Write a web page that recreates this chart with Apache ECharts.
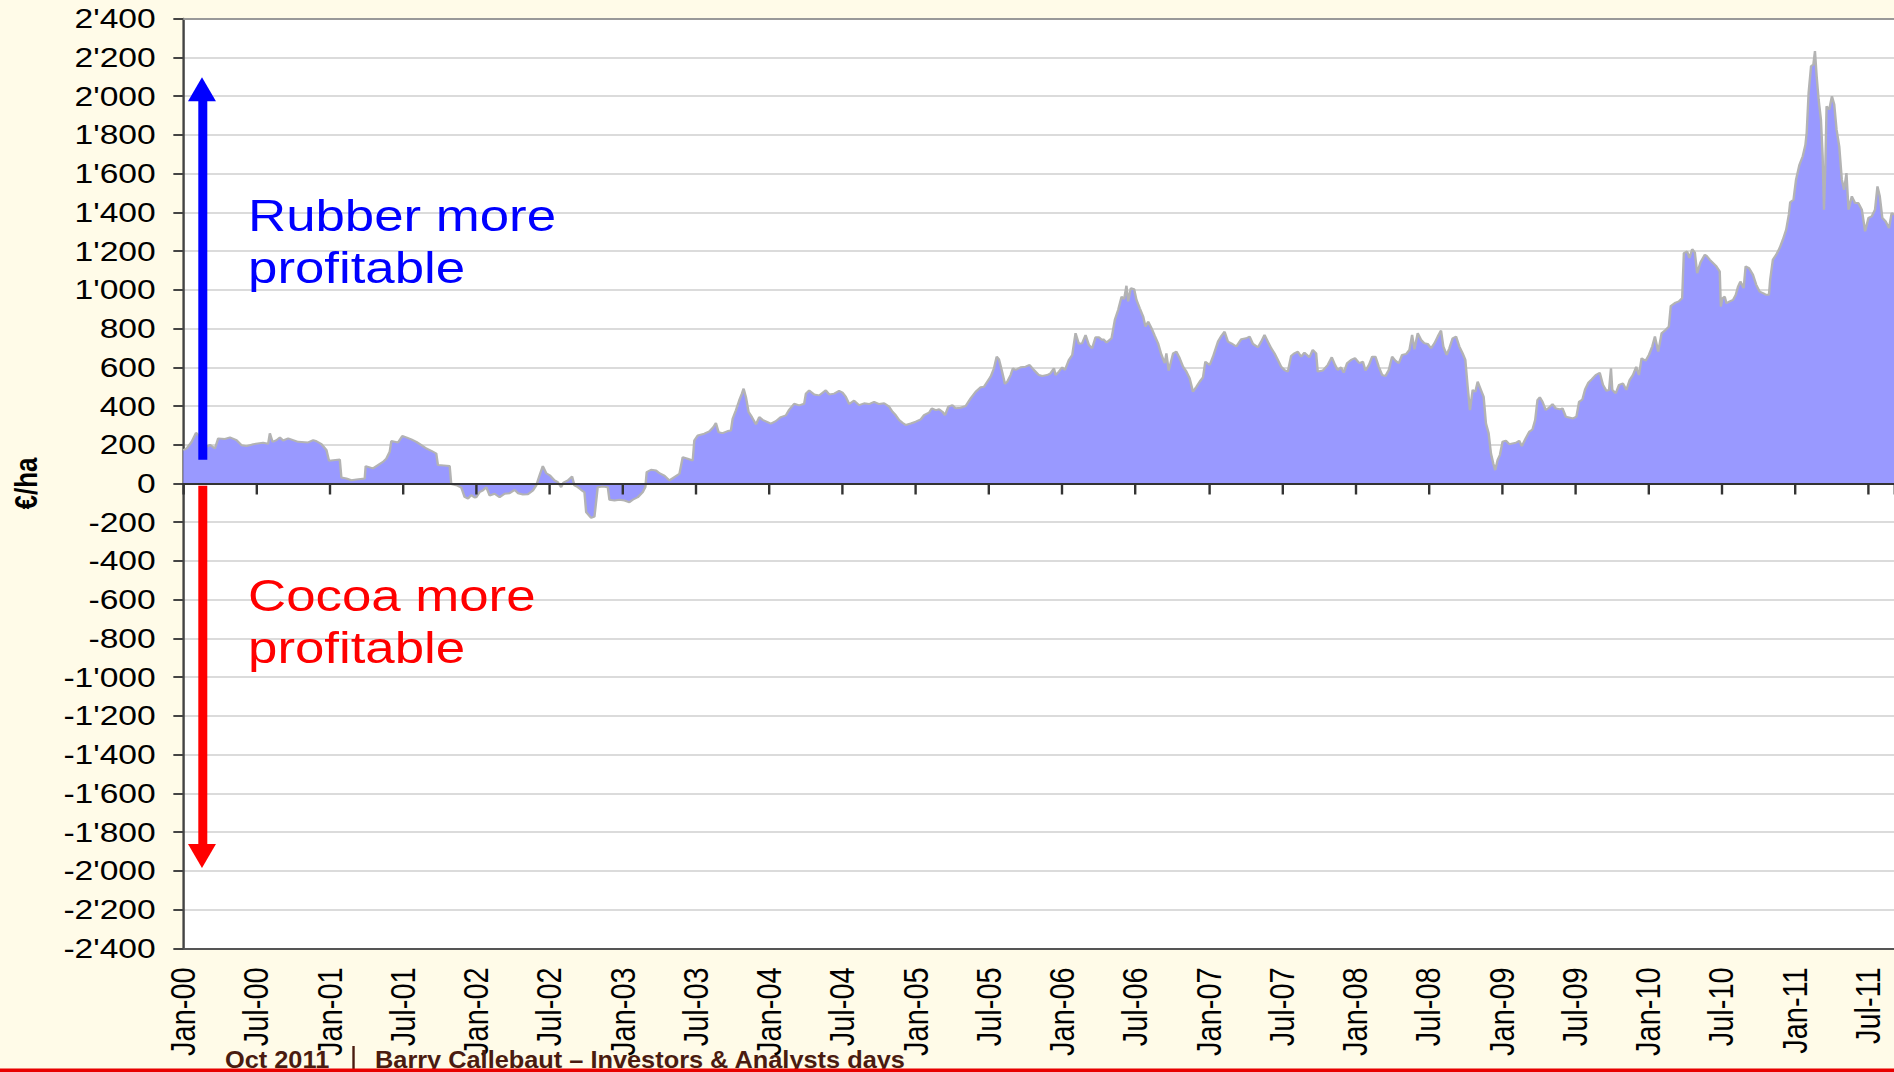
<!DOCTYPE html>
<html>
<head>
<meta charset="utf-8">
<title>Rubber vs cocoa profitability</title>
<script src="https://cdn.jsdelivr.net/npm/echarts@6/dist/echarts.min.js"></script>
<style>
    html, body { margin: 0; padding: 0; background: #fffbe8; overflow: hidden; }
    /* the slide this comes from was stretched sideways, so draw narrow and widen it */
    #chart { width: 1579px; height: 1072px; transform: scaleX(1.2); transform-origin: 0 0; }
</style>
</head>
<body>
<div id="chart"></div>
<script>
// x = months since Jan 2000, y = rubber minus cocoa margin in €/ha
var monthPos = [
    0, 0.27, 0.68, 1.04, 1.23, 1.96, 2.18, 2.59, 2.86, 3.41, 3.82, 4.36, 4.77, 5.18, 5.73,
    6.54, 6.95, 7.09, 7.31, 7.64, 7.91, 8.18, 8.59, 9.0, 9.41, 10.23, 10.64, 10.91, 11.32, 11.73, 11.94,
    12.82, 12.95, 13.36, 13.77, 14.18, 14.86, 14.94, 15.54, 15.95, 16.36, 16.63, 16.91, 17.04, 17.59, 17.94,
    18.27, 18.68, 19.09, 19.5, 19.91, 20.32, 20.72, 20.86, 21.82, 21.95, 22.36, 22.77, 23.04, 23.32, 23.59, 23.86,
    24.0, 24.27, 24.55, 24.82, 25.09, 25.5, 25.91, 26.32, 26.73, 27.14, 27.41, 27.82, 28.23, 28.64, 28.91,
    29.18, 29.45, 29.73, 30.05, 30.41, 30.68, 30.95, 31.14, 31.5, 31.85, 32.04, 32.32, 32.59, 32.86, 33.0,
    33.41, 33.68, 33.95, 34.36, 34.77, 34.91, 35.32, 35.73, 36.14, 36.54, 36.82, 37.23, 37.64, 37.85, 37.96,
    38.32, 38.73, 39.0, 39.41, 39.82, 40.23, 40.64, 40.91, 41.32, 41.73, 41.86, 42.14, 42.68, 43.09, 43.42,
    43.63, 43.85, 44.18, 44.59, 44.86, 45.0, 45.27, 45.54, 45.76, 45.9, 46.09, 46.31, 46.58, 46.91, 47.18,
    47.45, 47.86, 48.13, 48.54, 48.95, 49.36, 49.63, 50.04, 50.45, 50.86, 51.0, 51.27, 51.68, 52.09, 52.63,
    52.91, 53.32, 53.72,
    54.0, 54.27, 54.55, 54.95, 55.36, 55.77, 56.18, 56.59, 57.0, 57.41, 57.82, 58.09, 58.36, 58.64, 58.91,
    59.18, 59.59, 60.0, 60.41, 60.68, 61.09, 61.31, 61.64, 61.91, 62.18, 62.4, 62.67, 63.0, 63.27, 63.68,
    64.09, 64.5, 64.91, 65.32, 65.59, 65.86, 66.14, 66.41, 66.63, 66.82, 67.04, 67.31, 67.5, 67.77, 67.96,
    68.18, 68.59, 69.0, 69.33, 69.68, 70.09, 70.36, 70.77, 71.04, 71.32, 71.45, 71.73, 72.0, 72.22, 72.54,
    72.82, 73.09, 73.36, 73.63, 73.91, 74.18, 74.45, 74.73, 75.0, 75.27,
    75.36, 75.63, 76.04, 76.31, 76.58, 76.86, 77.07, 77.26, 77.4, 77.62, 77.89, 78.08, 78.35, 78.63, 78.82,
    79.04, 79.31, 79.58, 79.85, 80.13, 80.4, 80.53, 80.72, 81.08, 81.35, 81.62, 81.9, 82.17, 82.44, 82.71,
    82.99, 83.26, 83.53, 83.72, 84.08, 84.35, 84.76, 85.03, 85.3, 85.57, 85.85, 86.26, 86.66, 87.07, 87.35,
    87.62, 88.03, 88.3, 88.57, 88.84, 89.12, 89.39, 89.66, 89.93, 90.21, 90.48, 90.75, 91.02, 91.3, 91.57,
    91.84, 92.25, 92.52, 92.8, 92.93, 93.34, 93.75, 94.08, 94.35, 94.57, 94.84, 95.06, 95.33, 95.66, 95.98, 96.34,
    96.63, 96.84, 97.12, 97.39, 97.66, 97.93, 98.21, 98.48, 98.75, 99.02, 99.3, 99.57, 99.84, 100.17, 100.44,
    100.66, 100.85, 101.12, 101.4, 101.67, 101.94, 102.21, 102.49, 102.76, 103.03, 103.22, 103.49, 103.71, 103.98, 104.26,
    104.53, 104.8, 105.02, 105.21, 105.4, 105.62, 105.84, 106.03, 106.3, 106.52, 106.71, 106.93, 107.12, 107.31, 107.47,
    107.66, 107.85, 108.07, 108.34, 108.62, 108.89, 109.16, 109.43, 109.65, 109.92, 110.25, 110.52, 110.74, 110.93, 111.12,
    111.34, 111.61, 111.89, 112.16, 112.43, 112.76, 112.98, 113.25, 113.52, 113.85, 114.12, 114.34, 114.61, 114.83, 115.1,
    115.37, 115.7, 116.03, 116.3, 116.57, 116.79, 116.95, 117.06, 117.34, 117.61, 117.93, 118.21, 118.48, 118.75, 119.02,
    119.24, 119.46, 119.79, 120.06, 120.33, 120.55, 120.82, 121.1, 121.42, 121.69, 121.85, 122.24, 122.51, 122.78, 122.92,
    123.19, 123.38, 123.6, 123.82, 124.01, 124.28, 124.64,
    124.78, 125.05, 125.32, 125.59, 125.86, 125.95, 126.08, 126.27, 126.41, 126.68, 126.95, 127.17, 127.36, 127.55, 127.82,
    127.98, 128.26, 128.58, 128.85, 129.13, 129.4, 129.67, 129.89, 129.99, 130.21, 130.48, 130.76, 131.03, 131.3, 131.52,
    131.63, 131.9, 132.11, 132.39, 132.66, 132.88, 132.98, 133.14, 133.34, 133.53, 133.66, 133.8, 133.96, 134.15, 134.29,
    134.4, 134.51, 134.61, 134.83, 135.05, 135.24, 135.43, 135.65, 135.86, 136.05, 136.24, 136.41, 136.68, 136.95, 137.22,
    137.5, 137.77, 138.04, 138.31, 138.58, 138.78, 138.97, 139.18, 139.45, 139.73, 139.94, 140.2
];
var netValue = [
    172, 181, 215, 262, 250, 190, 200, 181, 233, 230, 238, 224, 198, 193, 203,
    210, 205, 259, 215, 224, 238, 222, 233, 224, 215, 212, 224, 218, 203, 172, 117,
    124, 31, 26, 17, 21, 26, 90, 78, 95, 112, 129, 164, 219, 212, 245,
    238, 228, 215, 198, 181, 169, 155, 95, 90, -3, -9, -21, -69, -78, -60, -72,
    -71, -45, -36, -19, -62, -53, -71, -53, -50, -33, -50, -57, -55, -36, -10,
    41, 90, 53, 41, 16, 7, -19, 5, 16, 36, -10, -19, -33, -45, -148,
    -178, -171, -19, -16, -19, -84, -88, -84, -88, -97, -84, -71, -45, -19, 59,
    71, 67, 53, 41, 16, 33, 50, 136, 128, 119, 222, 248, 257, 269, 291,
    312, 265, 260, 271, 274, 334, 378, 429, 464, 490, 446, 369, 343, 305, 343,
    329, 317, 309, 322, 343, 352, 381, 412, 403, 412, 464, 481, 460, 455, 481,
    460, 464, 478,
    469, 448, 410, 428, 405, 414, 410, 422, 410, 414, 397, 371, 353, 328, 314,
    302, 310, 319, 331, 353, 366, 388, 379, 383, 371, 353, 397, 405, 388, 391,
    400, 440, 474, 497, 500, 526, 552, 595, 655, 641, 586, 514, 526, 560, 595,
    586, 600, 603, 612, 586, 560, 555, 560, 569, 595, 560, 578, 600, 586, 638,
    664, 776, 721, 724, 767, 716, 698, 755, 755, 741,
    745, 728, 750, 845, 896, 965, 952, 1021, 940, 1009, 1003, 948, 905, 862, 810,
    836, 802, 762, 724, 664, 621, 672, 583, 672, 681, 647, 603, 578, 543, 474,
    500, 526, 548, 629, 612, 655, 733, 762, 784, 733, 724, 707, 745, 750, 759,
    721, 703, 733, 767, 733, 698, 672, 638, 603, 586, 578, 659, 672, 681, 655,
    676, 652, 690, 672, 578, 583, 612, 652, 612, 586, 600, 572, 621, 638, 647, 621,
    629, 583, 612, 655, 655, 603, 560, 555, 586, 655, 634, 621, 664, 669, 690,
    767, 693, 776, 741, 724, 721, 698, 724, 759, 790, 707, 664, 698, 750, 759,
    707, 672, 638, 500, 379, 483, 474, 526, 483, 448, 310, 259, 155, 103, 69,
    121, 147, 216, 221, 203, 207, 210, 221, 193, 228, 267, 279, 328, 431, 445,
    422, 379, 393, 410, 388, 383, 388, 345, 341, 336, 345, 422, 434, 486, 521,
    538, 560, 572, 509, 479, 483, 595, 483, 466, 509, 517, 483, 534, 560, 603,
    560, 647, 634, 664, 707, 759, 681, 776, 793, 810, 917, 934, 940, 957, 1190,
    1198, 1164, 1210, 1193, 1086, 1141, 1181,
    1176, 1155, 1138, 1121, 1095, 914, 957, 965, 931, 940, 948, 974, 1017, 1043, 1009,
    1121, 1112, 1078, 1026, 991, 983, 974, 974, 1052, 1155, 1181, 1215, 1259, 1310, 1388,
    1452, 1465, 1569, 1646, 1690, 1750, 1810, 2017, 2155, 2164, 2233, 2103, 1983, 1879, 1690,
    1414, 1638, 1948, 1931, 2000, 1957, 1827, 1741, 1569, 1517, 1603, 1414, 1483, 1448, 1448,
    1414, 1302, 1371, 1379, 1414, 1534, 1483, 1371, 1353, 1319, 1396, 1388
];
var tickLabels = ['Jan-00', 'Jul-00', 'Jan-01', 'Jul-01', 'Jan-02', 'Jul-02', 'Jan-03', 'Jul-03',
    'Jan-04', 'Jul-04', 'Jan-05', 'Jul-05', 'Jan-06', 'Jul-06', 'Jan-07', 'Jul-07',
    'Jan-08', 'Jul-08', 'Jan-09', 'Jul-09', 'Jan-10', 'Jul-10', 'Jan-11', 'Jul-11'];

var font = 'Liberation Sans';
var footFont = 'bold 24px "Liberation Sans"';

function fmtThousands(v) {
    var s = String(Math.abs(v));
    if (s.length > 3) s = s.slice(0, -3) + "'" + s.slice(-3);
    return (v < 0 ? '-' : '') + s;
}
function fmtMonth(v) {
    var i = Math.round(v / 6);
    return (Math.abs(v - i * 6) < 1e-6 && tickLabels[i]) ? tickLabels[i] : '';
}

var seriesData = monthPos.map(function (m, i) { return [m, netValue[i]]; });

var chart = echarts.init(document.getElementById('chart'), null, {renderer: 'svg'});

var option = {
    backgroundColor: '#fffbe8',
    animation: false,
    grid: {left: 152.75, right: 0, top: 18.7, bottom: 123.7, show: true, backgroundColor: '#ffffff', borderWidth: 0},
    xAxis: [
        {   // zero line with the half-year ticks
            type: 'value', min: 0, max: 140.2, interval: 6, z: 5,
            axisLine: {onZero: true, lineStyle: {color: '#333', width: 2}},
            axisTick: {length: 11, lineStyle: {color: '#333', width: 2}},
            axisLabel: {show: false},
            splitLine: {show: false}
        },
        {   // bottom edge with the date labels
            type: 'value', min: 0, max: 140.2, interval: 6, position: 'bottom',
            axisLine: {onZero: false, lineStyle: {color: '#555', width: 2}},
            axisTick: {show: false},
            axisLabel: {rotate: 90, margin: 19, fontSize: 29, fontFamily: font, color: '#000',
                formatter: fmtMonth, showMaxLabel: false},
            splitLine: {show: false}
        },
        {   // top edge of the plot
            type: 'value', min: 0, max: 140.2, position: 'top',
            axisLine: {onZero: false, lineStyle: {color: '#999', width: 2}},
            axisTick: {show: false}, axisLabel: {show: false}, splitLine: {show: false}
        }
    ],
    yAxis: {
        type: 'value', min: -2400, max: 2400, interval: 200,
        axisLine: {show: true, onZero: false, lineStyle: {color: '#444', width: 2}},
        axisTick: {show: true, length: 8.3, lineStyle: {color: '#444', width: 2}},
        axisLabel: {fontSize: 28, fontFamily: font, color: '#000', margin: 23, formatter: fmtThousands},
        splitLine: {lineStyle: {color: '#cfcfcf', width: 1.5}},
        name: '€/ha', nameLocation: 'middle', nameRotate: 90, nameGap: 118,
        nameTextStyle: {fontSize: 26, fontWeight: 'bold', fontFamily: font, color: '#000'}
    },
    series: [{
        type: 'line',
        xAxisIndex: 0,
        data: seriesData,
        symbol: 'none',
        lineStyle: {color: '#b3b3b3', width: 2},
        areaStyle: {color: '#9999ff', opacity: 1},
        markLine: {
            silent: true,
            symbol: ['none', 'triangle'],
            symbolSize: [23.3, 24],
            label: {show: false},
            data: [
                [{coord: [1.53, 122], lineStyle: {color: '#0000ff', width: 7.5, type: 'solid'}, itemStyle: {color: '#0000ff'}},
                 {coord: [1.53, 2036]}],
                [{coord: [1.53, -12], lineStyle: {color: '#ff0000', width: 7.5, type: 'solid'}, itemStyle: {color: '#ff0000'}},
                 {coord: [1.53, -1923]}]
            ]
        }
    }],
    graphic: [
        {type: 'text', left: 206.7, top: 190, z: 50,
            style: {text: 'Rubber more\nprofitable', fill: '#0000ff', font: '44px "Liberation Sans"', lineHeight: 52}},
        {type: 'text', left: 206.7, top: 570, z: 50,
            style: {text: 'Cocoa more\nprofitable', fill: '#ff0000', font: '44px "Liberation Sans"', lineHeight: 52}},
        // footer of the slide, squeezed to the narrow face it uses
        {type: 'text', x: 187.5, y: 1048, scaleX: 0.88, z: 60,
            style: {text: 'Oct 2011', fill: '#4a1c10', font: footFont}},
        {type: 'rect', z: 60, shape: {x: 293.6, y: 1046, width: 2, height: 26}, style: {fill: '#4a1c10'}},
        {type: 'text', x: 312.5, y: 1048, scaleX: 0.88, z: 60,
            style: {text: 'Barry Callebaut – Investors & Analysts days', fill: '#4a1c10', font: footFont}},
        {type: 'rect', z: 61, shape: {x: 0, y: 1068.5, width: 1579, height: 4}, style: {fill: '#e80000'}}
    ]
};

if (option && typeof option === "object") {
    chart.setOption(option, true);
}
</script>
</body>
</html>
